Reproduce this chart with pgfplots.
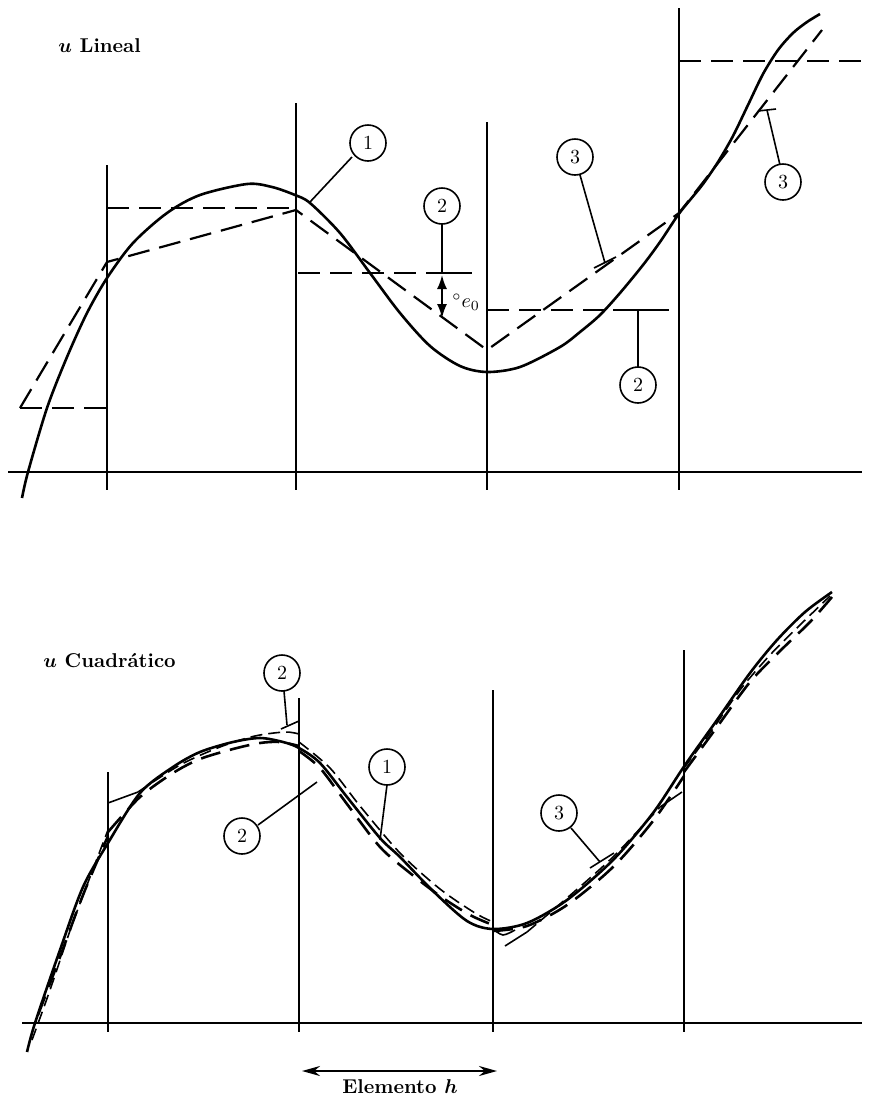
\documentclass[border=0pt]{standalone}
\usepackage{pgfplots}
\pgfplotsset{compat=1.18}
\usetikzlibrary{arrows.meta}
\tikzset{
  curve/.style={black, line width=1.3pt, smooth, tension=0.5},
  gline/.style={black, line width=0.9pt},
  lead/.style={black, line width=0.8pt},
  dashT/.style={black, line width=1.1pt, dash pattern=on 11pt off 5pt},
  dashA/.style={black, line width=1.3pt, dash pattern=on 10pt off 5pt, smooth, tension=0.5},
  dashB/.style={black, line width=0.8pt, dash pattern=on 6pt off 3pt, smooth, tension=0.5},
  num/.style={draw, circle, line width=0.8pt, minimum size=18pt, inner sep=0pt, fill=white, font=\normalsize},
}
\begin{document}
\begin{tikzpicture}
\begin{axis}[scale only axis, width=437pt, height=549.5pt,
  xmin=0, xmax=874, ymin=0, ymax=1099, y dir=reverse,
  hide axis, clip=false]
% invisible frame so that the picture spans the whole canvas
\addplot[draw=none, forget plot] coordinates {(0,0) (874,1099)};
% ================= TOP PANEL (u Lineal) =================
\addplot[gline, line width=0.95pt] coordinates {(8,472) (862,472)};
\addplot[gline] coordinates {(107,165) (107,490)};
\addplot[gline] coordinates {(296,103) (296,490)};
\addplot[gline] coordinates {(487,122) (487,490)};
\addplot[gline] coordinates {(679,8) (679,490)};
% exact solution (1)
\addplot[curve] coordinates {
 (22,498) (28,472) (47,408) (67,357) (87,313) (107,278) (133,243) (167,213)
 (200,195) (247,184) (272,187) (295,195) (310,203) (340,233) (370,273)
 (400,313) (430,346) (460,366) (487,372) (520,367) (560,347) (580,332)
 (600,315) (620,293) (643,265) (660,242) (678,215) (690,200) (703,184)
 (718,162) (733,136) (748,105) (763,74) (778,50) (793,33) (807,22) (820,14)};
% piecewise linear (3)
\addplot[dashT] coordinates {(20,408) (107,262) (296,210) (487,350) (679,213) (822,30)};
% piecewise constant (2)
\addplot[dashT] coordinates {(20,408) (107,408)};
\addplot[dashT] coordinates {(107,208) (296,208)};
\addplot[dashT] coordinates {(298,273) (472,273)};
\addplot[dashT] coordinates {(487,310) (679,310)};
\addplot[dashT] coordinates {(679,61) (862,61)};
% leaders
\addplot[lead] coordinates {(352,157) (310,202)};
\addplot[lead] coordinates {(442,224) (442,273)};
\addplot[lead] coordinates {(426,273) (472,273)};
\addplot[black, line width=0.9pt, {Latex[length=7pt,width=5pt]}-{Latex[length=7pt,width=5pt]}] coordinates {(442,275) (442,318)};
\addplot[lead] coordinates {(580,175) (605,263)};
\addplot[lead] coordinates {(594,268) (616,257)};
\addplot[lead] coordinates {(638,367) (638,310)};
\addplot[lead] coordinates {(613,310) (647,310)};
\addplot[lead] coordinates {(780,165) (767,110)};
\addplot[lead] coordinates {(758,111) (776,109)};
\node[num] at (axis cs:368,143) {1};
\node[num] at (axis cs:442,206) {2};
\node[num] at (axis cs:575,157) {3};
\node[num] at (axis cs:638,385) {2};
\node[num] at (axis cs:783,182) {3};
\node[anchor=west, inner sep=0pt] at (axis cs:452,302) {${}^{\circ}e_{0}$};
\node[anchor=base west, inner sep=0pt, font=\bfseries\boldmath] at (axis cs:58,52) {$u$ Lineal};
% ================= BOTTOM PANEL (u Cuadratico) =================
\addplot[gline, line width=0.95pt] coordinates {(22,1023) (862,1023)};
\addplot[gline] coordinates {(108,772) (108,1032)};
\addplot[gline] coordinates {(299,698) (299,1032)};
\addplot[gline] coordinates {(493,690) (493,1032)};
\addplot[gline] coordinates {(684,650) (684,1032)};
% exact solution (1)
\addplot[curve] coordinates {
 (27,1052) (35,1023) (60,950) (83,887) (108,843) (140,793) (173,767)
 (200,752) (233,742) (260,738) (283,742) (299,748) (320,763) (347,797)
 (380,838) (400,857) (433,891) (467,921) (493,929) (527,923) (567,900)
 (613,860) (653,813) (685,765) (717,720) (750,673) (777,640) (805,612) (832,592)};
% quadratic, continuous (3)
\addplot[dashA] coordinates {(38,1015) (60,957) (83,895) (108,836)};
\addplot[dashA] coordinates {(108,832) (140,797) (173,773) (200,759) (233,749) (260,743) (280,742) (299,746)};
\addplot[dashA] coordinates {(299,751) (320,768) (347,804) (380,847) (410,873) (440,896) (470,915) (493,925)};
\addplot[dashA] coordinates {(493,931) (527,926) (567,905) (613,867) (653,821) (684,776)};
\addplot[dashA] coordinates {(684,772) (717,727) (750,682) (780,651) (810,622) (832,597)};
% linear-discontinuous pieces (2)
\addplot[dashB] coordinates {(32,1040) (50,990) (72,925) (95,864) (108,830)};
\addplot[lead] coordinates {(108,803) (138,792)};
\addplot[dashB] coordinates {(138,792) (180,765) (220,747) (255,736) (285,732) (299,734)};
\addplot[dashB] coordinates {(299,742) (330,768) (360,806) (400,853) (440,889) (475,913) (493,922)};
\addplot[lead, smooth] coordinates {(493,929) (503,935) (515,930)};
\addplot[lead] coordinates {(505,946) (527,932)};
\addplot[dashB] coordinates {(527,932) (567,898) (613,857) (660,807)};
\addplot[lead] coordinates {(660,807) (682,792)};
\addplot[dashB] coordinates {(684,768) (710,733) (740,690) (770,655) (800,625) (830,596)};
% leaders
\addplot[lead] coordinates {(284,691) (287,725)};
\addplot[lead] coordinates {(281,729) (299,721)};
\addplot[lead] coordinates {(258,825) (317,782)};
\addplot[lead] coordinates {(387,785) (380,840)};
\addplot[lead] coordinates {(571,828) (600,862)};
\addplot[lead] coordinates {(590,868) (614,853)};
\node[num] at (axis cs:282,673) {2};
\node[num] at (axis cs:242,836) {2};
\node[num] at (axis cs:387,767) {1};
\node[num] at (axis cs:559,813) {3};
\node[anchor=base west, inner sep=0pt, font=\bfseries\boldmath] at (axis cs:43,667) {$u$ Cuadrático};
% element arrow
\addplot[black, line width=1.1pt, {Stealth[length=9pt,width=5pt]}-{Stealth[length=9pt,width=5pt]}] coordinates {(302,1071) (497,1071)};
\node[anchor=base, inner sep=0pt, font=\bfseries\boldmath] at (axis cs:400,1093) {Elemento $h$};
\end{axis}
\end{tikzpicture}
\end{document}
